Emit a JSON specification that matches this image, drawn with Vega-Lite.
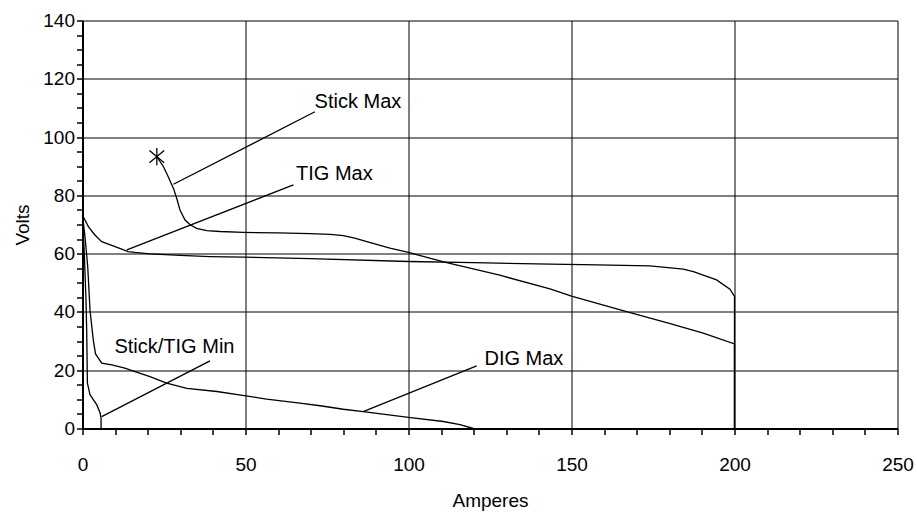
{
  "$schema": "https://vega.github.io/schema/vega-lite/v6.json",
  "autosize": {"type": "none"},
  "padding": {"left": 82.5, "top": 20.5, "right": 19.5, "bottom": 83.5},
  "width": 815,
  "height": 408,
  "background": "white",
  "config": {
    "view": {"stroke": null},
    "font": "Liberation Sans"
  },
  "datasets": {
    "curves": [
      {"s": "Stick Max", "o": 1, "a": 22.8, "v": 93.3},
      {"s": "Stick Max", "o": 2, "a": 24.8, "v": 89.9},
      {"s": "Stick Max", "o": 3, "a": 26.3, "v": 86.4},
      {"s": "Stick Max", "o": 4, "a": 27.9, "v": 82.4},
      {"s": "Stick Max", "o": 5, "a": 28.9, "v": 79.0},
      {"s": "Stick Max", "o": 6, "a": 29.9, "v": 75.0},
      {"s": "Stick Max", "o": 7, "a": 31.4, "v": 71.6},
      {"s": "Stick Max", "o": 8, "a": 33.0, "v": 69.9},
      {"s": "Stick Max", "o": 9, "a": 35.0, "v": 68.7},
      {"s": "Stick Max", "o": 10, "a": 38.1, "v": 67.9},
      {"s": "Stick Max", "o": 11, "a": 42.2, "v": 67.6},
      {"s": "Stick Max", "o": 12, "a": 49.3, "v": 67.3},
      {"s": "Stick Max", "o": 13, "a": 60.0, "v": 67.1},
      {"s": "Stick Max", "o": 14, "a": 69.8, "v": 66.9},
      {"s": "Stick Max", "o": 15, "a": 76.0, "v": 66.6},
      {"s": "Stick Max", "o": 16, "a": 80.0, "v": 66.2},
      {"s": "Stick Max", "o": 17, "a": 83.5, "v": 65.3},
      {"s": "Stick Max", "o": 18, "a": 87.2, "v": 64.1},
      {"s": "Stick Max", "o": 19, "a": 94.3, "v": 61.9},
      {"s": "Stick Max", "o": 20, "a": 100.0, "v": 60.4},
      {"s": "Stick Max", "o": 21, "a": 111.7, "v": 56.9},
      {"s": "Stick Max", "o": 22, "a": 128.0, "v": 52.6},
      {"s": "Stick Max", "o": 23, "a": 143.4, "v": 47.9},
      {"s": "Stick Max", "o": 24, "a": 150.0, "v": 45.4},
      {"s": "Stick Max", "o": 25, "a": 158.7, "v": 42.7},
      {"s": "Stick Max", "o": 26, "a": 168.0, "v": 39.8},
      {"s": "Stick Max", "o": 27, "a": 180.0, "v": 36.1},
      {"s": "Stick Max", "o": 28, "a": 190.4, "v": 32.7},
      {"s": "Stick Max", "o": 29, "a": 200.0, "v": 29.0},
      {"s": "Stick Max", "o": 30, "a": 200.0, "v": 0},
      {"s": "TIG Max", "o": 1, "a": 0, "v": 73.2},
      {"s": "TIG Max", "o": 2, "a": 1.8, "v": 69.3},
      {"s": "TIG Max", "o": 3, "a": 3.8, "v": 66.4},
      {"s": "TIG Max", "o": 4, "a": 5.9, "v": 64.1},
      {"s": "TIG Max", "o": 5, "a": 10.0, "v": 62.4},
      {"s": "TIG Max", "o": 6, "a": 14.0, "v": 60.7},
      {"s": "TIG Max", "o": 7, "a": 16.1, "v": 60.4},
      {"s": "TIG Max", "o": 8, "a": 20.7, "v": 59.9},
      {"s": "TIG Max", "o": 9, "a": 30.0, "v": 59.4},
      {"s": "TIG Max", "o": 10, "a": 39.1, "v": 59.0},
      {"s": "TIG Max", "o": 11, "a": 49.3, "v": 58.8},
      {"s": "TIG Max", "o": 12, "a": 69.8, "v": 58.3},
      {"s": "TIG Max", "o": 13, "a": 100.0, "v": 57.3},
      {"s": "TIG Max", "o": 14, "a": 120.0, "v": 56.9},
      {"s": "TIG Max", "o": 15, "a": 143.4, "v": 56.4},
      {"s": "TIG Max", "o": 16, "a": 153.6, "v": 56.2},
      {"s": "TIG Max", "o": 17, "a": 174.0, "v": 55.8},
      {"s": "TIG Max", "o": 18, "a": 184.3, "v": 54.7},
      {"s": "TIG Max", "o": 19, "a": 187.4, "v": 53.8},
      {"s": "TIG Max", "o": 20, "a": 194.5, "v": 51.0},
      {"s": "TIG Max", "o": 21, "a": 198.6, "v": 47.8},
      {"s": "TIG Max", "o": 22, "a": 200.0, "v": 45.3},
      {"s": "TIG Max", "o": 23, "a": 200.0, "v": 0},
      {"s": "Stick/TIG Min", "o": 1, "a": 0, "v": 73.2},
      {"s": "Stick/TIG Min", "o": 2, "a": 0.55, "v": 60.1},
      {"s": "Stick/TIG Min", "o": 3, "a": 1.07, "v": 44.1},
      {"s": "Stick/TIG Min", "o": 4, "a": 1.3, "v": 32.7},
      {"s": "Stick/TIG Min", "o": 5, "a": 1.5, "v": 15.6},
      {"s": "Stick/TIG Min", "o": 6, "a": 2.3, "v": 11.6},
      {"s": "Stick/TIG Min", "o": 7, "a": 4.4, "v": 8.1},
      {"s": "Stick/TIG Min", "o": 8, "a": 5.4, "v": 5.3},
      {"s": "Stick/TIG Min", "o": 9, "a": 5.7, "v": 3.6},
      {"s": "Stick/TIG Min", "o": 10, "a": 5.7, "v": 0},
      {"s": "DIG Max", "o": 1, "a": 0, "v": 73.2},
      {"s": "DIG Max", "o": 2, "a": 0.77, "v": 65.8},
      {"s": "DIG Max", "o": 3, "a": 1.6, "v": 55.6},
      {"s": "DIG Max", "o": 4, "a": 2.3, "v": 40.7},
      {"s": "DIG Max", "o": 5, "a": 3.3, "v": 30.4},
      {"s": "DIG Max", "o": 6, "a": 4.0, "v": 25.6},
      {"s": "DIG Max", "o": 7, "a": 5.9, "v": 22.4},
      {"s": "DIG Max", "o": 8, "a": 9.0, "v": 21.8},
      {"s": "DIG Max", "o": 9, "a": 13.0, "v": 20.7},
      {"s": "DIG Max", "o": 10, "a": 16.1, "v": 19.5},
      {"s": "DIG Max", "o": 11, "a": 20.7, "v": 17.8},
      {"s": "DIG Max", "o": 12, "a": 25.8, "v": 15.6},
      {"s": "DIG Max", "o": 13, "a": 32.0, "v": 13.8},
      {"s": "DIG Max", "o": 14, "a": 41.2, "v": 12.7},
      {"s": "DIG Max", "o": 15, "a": 49.6, "v": 11.3},
      {"s": "DIG Max", "o": 16, "a": 56.5, "v": 10.1},
      {"s": "DIG Max", "o": 17, "a": 66.7, "v": 8.7},
      {"s": "DIG Max", "o": 18, "a": 72.9, "v": 7.8},
      {"s": "DIG Max", "o": 19, "a": 80.0, "v": 6.6},
      {"s": "DIG Max", "o": 20, "a": 86.1, "v": 5.8},
      {"s": "DIG Max", "o": 21, "a": 100.0, "v": 3.8},
      {"s": "DIG Max", "o": 22, "a": 110.7, "v": 2.4},
      {"s": "DIG Max", "o": 23, "a": 115.8, "v": 1.3},
      {"s": "DIG Max", "o": 24, "a": 119.9, "v": 0},
      {"s": "L1", "o": 1, "a": 27.9, "v": 83.8},
      {"s": "L1", "o": 2, "a": 71.3, "v": 108.7},
      {"s": "L2", "o": 1, "a": 13.6, "v": 61.3},
      {"s": "L2", "o": 2, "a": 64.7, "v": 83.6},
      {"s": "L3", "o": 1, "a": 5.9, "v": 4.1},
      {"s": "L3", "o": 2, "a": 39.1, "v": 23.2},
      {"s": "L4", "o": 1, "a": 86.1, "v": 5.8},
      {"s": "L4", "o": 2, "a": 120.9, "v": 21.5}
    ],
    "marker": [
      {"a": 22.8, "v": 93.3}
    ],
    "labels": [
      {"t": "Stick Max", "a": 71.2, "v": 109.9},
      {"t": "TIG Max", "a": 65.5, "v": 85.3},
      {"t": "Stick/TIG Min", "a": 9.8, "v": 25.9},
      {"t": "DIG Max", "a": 123.3, "v": 21.8}
    ]
  },
  "encoding": {
    "x": {
      "field": "a",
      "type": "quantitative",
      "scale": {"domain": [0, 250], "nice": false, "zero": false},
      "axis": {
        "title": "Amperes",
        "values": [0,10,20,30,40,50,60,70,80,90,100,110,120,130,140,150,160,170,180,190,200,210,220,230,240,250],
        "labelExpr": "datum.value % 50 == 0 ? datum.label : ''",
        "labelOverlap": false,
        "labelBound": false,
        "labelFlush": false,
        "grid": true,
        "gridColor": "black",
        "gridWidth": 1,
        "gridOpacity": {"condition": {"test": "datum.value % 50 == 0", "value": 1}, "value": 0},
        "domainColor": "black",
        "domainWidth": 2,
        "tickColor": "black",
        "tickWidth": 1.5,
        "tickSize": 6,
        "labelColor": "black",
        "labelFont": "Liberation Sans",
        "labelFontSize": 19,
        "labelPadding": 21,
        "titleColor": "black",
        "titleFont": "Liberation Sans",
        "titleFontSize": 19,
        "titleFontWeight": "normal",
        "titlePadding": 17
      }
    },
    "y": {
      "field": "v",
      "type": "quantitative",
      "scale": {"domain": [0, 140], "nice": false, "zero": false},
      "axis": {
        "title": "Volts",
        "values": [0,5,10,15,20,25,30,35,40,45,50,55,60,65,70,75,80,85,90,95,100,105,110,115,120,125,130,135,140],
        "labelExpr": "datum.value % 20 == 0 ? datum.label : ''",
        "labelOverlap": false,
        "labelBound": false,
        "labelFlush": false,
        "grid": true,
        "gridColor": "black",
        "gridWidth": 1,
        "gridOpacity": {"condition": {"test": "datum.value % 20 == 0", "value": 1}, "value": 0},
        "domainColor": "black",
        "domainWidth": 2,
        "tickColor": "black",
        "tickWidth": 1.5,
        "tickSize": 6,
        "labelColor": "black",
        "labelFont": "Liberation Sans",
        "labelFontSize": 19,
        "labelPadding": 2,
        "titleColor": "black",
        "titleFont": "Liberation Sans",
        "titleFontSize": 19,
        "titleFontWeight": "normal",
        "titlePadding": 10
      }
    }
  },
  "layer": [
    {
      "data": {"name": "curves"},
      "mark": {"type": "line", "color": "black", "strokeWidth": 1.3, "interpolate": "linear"},
      "encoding": {
        "detail": {"field": "s", "type": "nominal"},
        "order": {"field": "o", "type": "quantitative"}
      }
    },
    {
      "data": {"name": "marker"},
      "mark": {
        "type": "point",
        "shape": "M0,-1L0,1M-0.85,-0.7L0.85,0.7M-0.85,0.7L0.85,-0.7",
        "filled": false,
        "stroke": "black",
        "strokeWidth": 1.3,
        "size": 300,
        "opacity": 1
      }
    },
    {
      "data": {"name": "labels"},
      "mark": {
        "type": "text",
        "align": "left",
        "baseline": "alphabetic",
        "font": "Liberation Sans",
        "fontSize": 20,
        "color": "black"
      },
      "encoding": {
        "text": {"field": "t", "type": "nominal"}
      }
    }
  ]
}
